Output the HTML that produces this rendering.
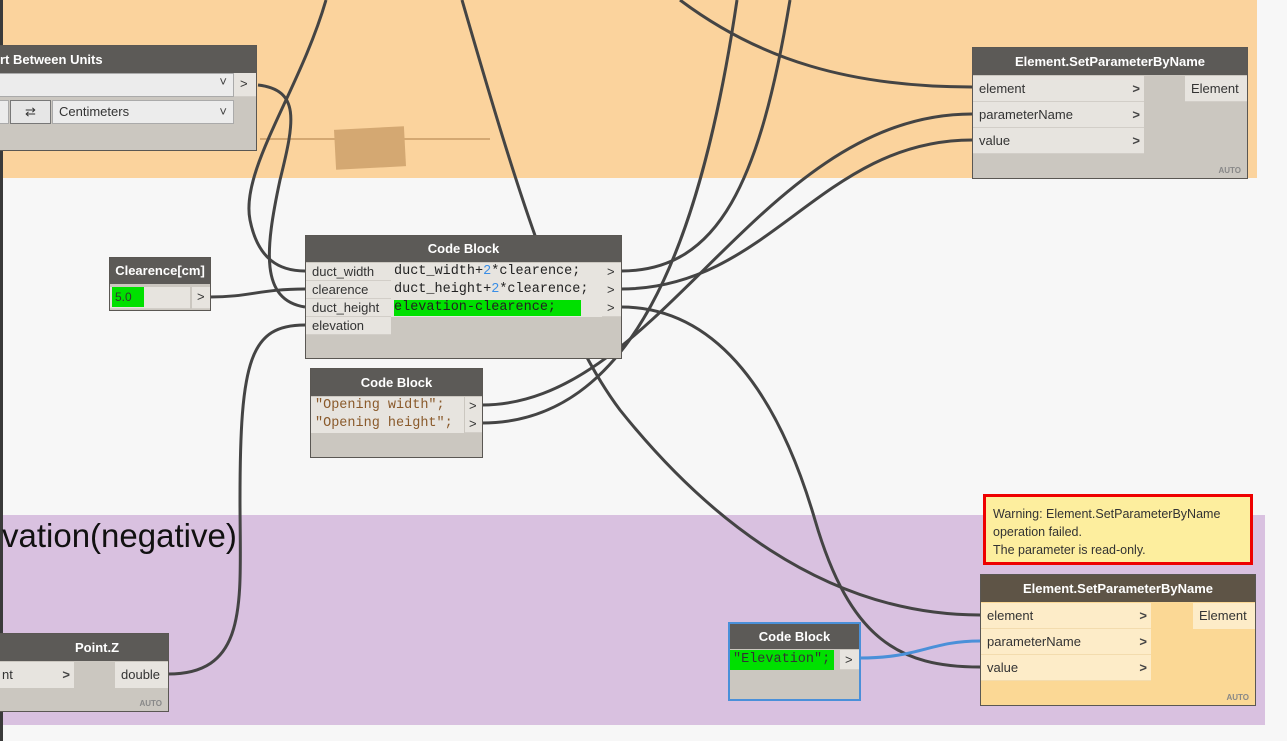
<!DOCTYPE html>
<html><head><meta charset="utf-8"><style>
body{margin:0;width:1287px;height:741px;overflow:hidden;background:#f7f7f7;position:relative;font-family:"Liberation Sans",sans-serif;}
.a{position:absolute;box-sizing:border-box}
.node{position:absolute;box-sizing:border-box;background:#cbc7c0;border:1px solid #5a5753}
.hd{position:absolute;left:0;right:0;top:0;background:#5c5a57;color:#fff;font-weight:bold;font-size:13px;text-align:center}
.row{position:absolute;background:#e7e4df;font-size:13px;color:#333;box-sizing:border-box;padding-left:6px;border-bottom:1px solid #d2cec8}
.mono{font-family:"Liberation Mono",monospace;font-size:13.5px}
.auto{position:absolute;right:6px;bottom:3px;font-size:8px;font-weight:bold;color:#888}
.chev{position:absolute;right:4px;font-weight:bold;color:#444}
</style></head><body>
<div class="a" style="left:0;top:0;width:1257px;height:178px;background:#fbd39d"></div>
<div class="a" style="left:0;top:515px;width:1265px;height:210px;background:#d9c1e0"></div>
<div class="a" style="left:0;top:0;width:3px;height:741px;background:#3a3a3a"></div>
<div class="a" style="left:2px;top:514px;font-size:33px;color:#111;line-height:44px">vation(negative)</div>
<div class="a" style="left:335px;top:128px;width:70px;height:40px;background:#d4a872;transform:rotate(-3deg)"></div>
<div class="a" style="left:260px;top:138px;width:230px;height:2px;background:#d4a872"></div>

<svg class="a" style="left:0;top:0" width="1287" height="741">
<g fill="none" stroke="#444" stroke-width="3">
<path d="M326,0 C300,90 240,170 250,220 C258,260 280,271 305,271"/>
<path d="M258,85 C300,90 295,120 280,180 C265,250 260,300 305,307"/>
<path d="M462,0 C520,200 560,330 620,410 C700,510 820,615 980,615"/>
<path d="M680,0 C760,60 850,87 972,87"/>
<path d="M621,307 C720,307 780,400 815,520 C850,640 900,667 980,667"/>
<path d="M621,271 C720,271 760,180 790,0"/>
<path d="M621,289 C770,289 820,140 972,140"/>
<path d="M482,405 C660,405 760,114 972,114"/>
<path d="M482,423 C630,423 700,250 737,0"/>
<path d="M210,297 C250,297 260,289 305,289"/>
<path d="M168,674 C250,674 240,600 240,500 C240,360 250,325 305,325"/>
</g>
<path d="M860,658 C920,658 930,641 980,641" fill="none" stroke="#4a90d9" stroke-width="3"/>
</svg>

<!-- Convert Between Units -->
<div class="node" style="left:-5px;top:45px;width:262px;height:106px">
<div class="hd" style="height:27px;line-height:27px;text-align:left;padding-left:4px">rt Between Units</div>
<div class="row" style="left:0;top:27px;width:238px;height:24px;background:#ececec;border:1px solid #aaa"><span class="chev" style="font-weight:normal;right:6px">˅</span></div>
<div class="row" style="left:238px;top:27px;width:22px;height:24px;padding-left:6px;line-height:22px">&gt;</div>
<div class="row" style="left:0;top:54px;width:13px;height:24px;background:#ececec;border:1px solid #aaa"></div>
<div class="row" style="left:14px;top:54px;width:41px;height:24px;background:#e6e6e6;border:1px solid #777;text-align:center;padding:0;line-height:22px">⇄</div>
<div class="row" style="left:56px;top:54px;width:182px;height:24px;background:#ececec;border:1px solid #aaa;line-height:22px">Centimeters<span class="chev" style="font-weight:normal;right:6px">˅</span></div>
</div>

<!-- Top SetParameterByName -->
<div class="node" style="left:972px;top:47px;width:276px;height:132px">
<div class="hd" style="height:27px;line-height:27px">Element.SetParameterByName</div>
<div class="row" style="left:0;top:28px;width:171px;height:26px;line-height:25px">element<span class="chev">&gt;</span></div>
<div class="row" style="left:0;top:54px;width:171px;height:26px;line-height:25px">parameterName<span class="chev">&gt;</span></div>
<div class="row" style="left:0;top:80px;width:171px;height:26px;line-height:25px">value<span class="chev">&gt;</span></div>
<div class="row" style="left:212px;top:28px;width:62px;height:26px;line-height:25px">Element</div>
<div class="auto">AUTO</div>
</div>

<!-- Clearence -->
<div class="node" style="left:109px;top:257px;width:102px;height:54px">
<div class="hd" style="height:26px;line-height:26px">Clearence[cm]</div>
<div class="row" style="left:0;top:29px;width:80px;height:22px;padding-left:2px"><div style="background:#00e000;width:32px;height:20px;line-height:20px;padding-left:3px;box-sizing:border-box;font-size:12px">5.0</div></div>
<div class="row" style="left:82px;top:29px;width:18px;height:22px;line-height:20px;padding-left:5px">&gt;</div>
</div>

<!-- Code Block 1 -->
<div class="node" style="left:305px;top:235px;width:317px;height:124px">
<div class="hd" style="height:26px;line-height:26px">Code Block</div>
<div class="row" style="left:0;top:27px;width:85px;height:18px;line-height:17px">duct_width</div>
<div class="row" style="left:0;top:45px;width:85px;height:18px;line-height:17px">clearence</div>
<div class="row" style="left:0;top:63px;width:85px;height:18px;line-height:17px">duct_height</div>
<div class="row" style="left:0;top:81px;width:85px;height:18px;line-height:17px">elevation</div>
<div class="row mono" style="left:85px;top:27px;width:211px;height:54px;padding-left:3px;line-height:18px;border:0;color:#222">duct_width+<span style="color:#3a8ee6">2</span>*clearence;<br>duct_height+<span style="color:#3a8ee6">2</span>*clearence;<br><span style="background:#00e000;display:inline-block;width:187px;height:16px;line-height:16px">elevation-clearence;</span></div>
<div class="row" style="left:296px;top:27px;width:19px;height:54px;line-height:18px;padding-left:5px">&gt;<br>&gt;<br>&gt;</div>
</div>

<!-- Code Block 2 -->
<div class="node" style="left:310px;top:368px;width:173px;height:90px">
<div class="hd" style="height:27px;line-height:27px">Code Block</div>
<div class="row mono" style="left:0;top:28px;width:153px;height:36px;padding-left:4px;line-height:18px;color:#8a5a2b;border:0">"Opening width";<br>"Opening height";</div>
<div class="row" style="left:154px;top:28px;width:17px;height:36px;line-height:18px;padding-left:4px">&gt;<br>&gt;</div>
</div>

<!-- Warning -->
<div class="a" style="left:983px;top:494px;width:270px;height:71px;border:3px solid #ee0000;background:#fdee9e;padding:8px 0 0 7px;font-size:12.5px;line-height:18px;color:#333">Warning: Element.SetParameterByName<br>operation failed.<br>The parameter is read-only.</div>

<!-- Bottom SetParameterByName -->
<div class="node" style="left:980px;top:574px;width:276px;height:132px;background:#fbd895">
<div class="hd" style="height:27px;line-height:27px;background:#5e5446">Element.SetParameterByName</div>
<div class="row" style="left:0;top:28px;width:170px;height:26px;line-height:25px;background:#fdecc8;border-color:#f3dcae">element<span class="chev">&gt;</span></div>
<div class="row" style="left:0;top:54px;width:170px;height:26px;line-height:25px;background:#fdecc8;border-color:#f3dcae">parameterName<span class="chev">&gt;</span></div>
<div class="row" style="left:0;top:80px;width:170px;height:26px;line-height:25px;background:#fdecc8;border-color:#f3dcae">value<span class="chev">&gt;</span></div>
<div class="row" style="left:212px;top:28px;width:62px;height:26px;line-height:25px;background:#fdecc8;border:0">Element</div>
<div class="auto">AUTO</div>
</div>

<!-- Code Block Elevation -->
<div class="node" style="left:728px;top:622px;width:133px;height:79px;border:2px solid #4a90d9">
<div class="hd" style="height:25px;line-height:25px">Code Block</div>
<div class="row mono" style="left:0;top:26px;width:104px;height:20px;padding-left:3px;line-height:20px;background:#00e000;border:0">"Elevation";</div>
<div class="row" style="left:110px;top:26px;width:19px;height:20px;line-height:19px;padding-left:5px">&gt;</div>
</div>

<!-- Point.Z -->
<div class="node" style="left:-5px;top:633px;width:174px;height:79px">
<div class="hd" style="height:27px;line-height:27px;padding-left:30px">Point.Z</div>
<div class="row" style="left:0;top:28px;width:78px;height:26px;line-height:25px;border:0">nt<span class="chev">&gt;</span></div>
<div class="row" style="left:119px;top:28px;width:53px;height:26px;line-height:25px;border:0">double</div>
<div class="auto">AUTO</div>
</div>
</body></html>
